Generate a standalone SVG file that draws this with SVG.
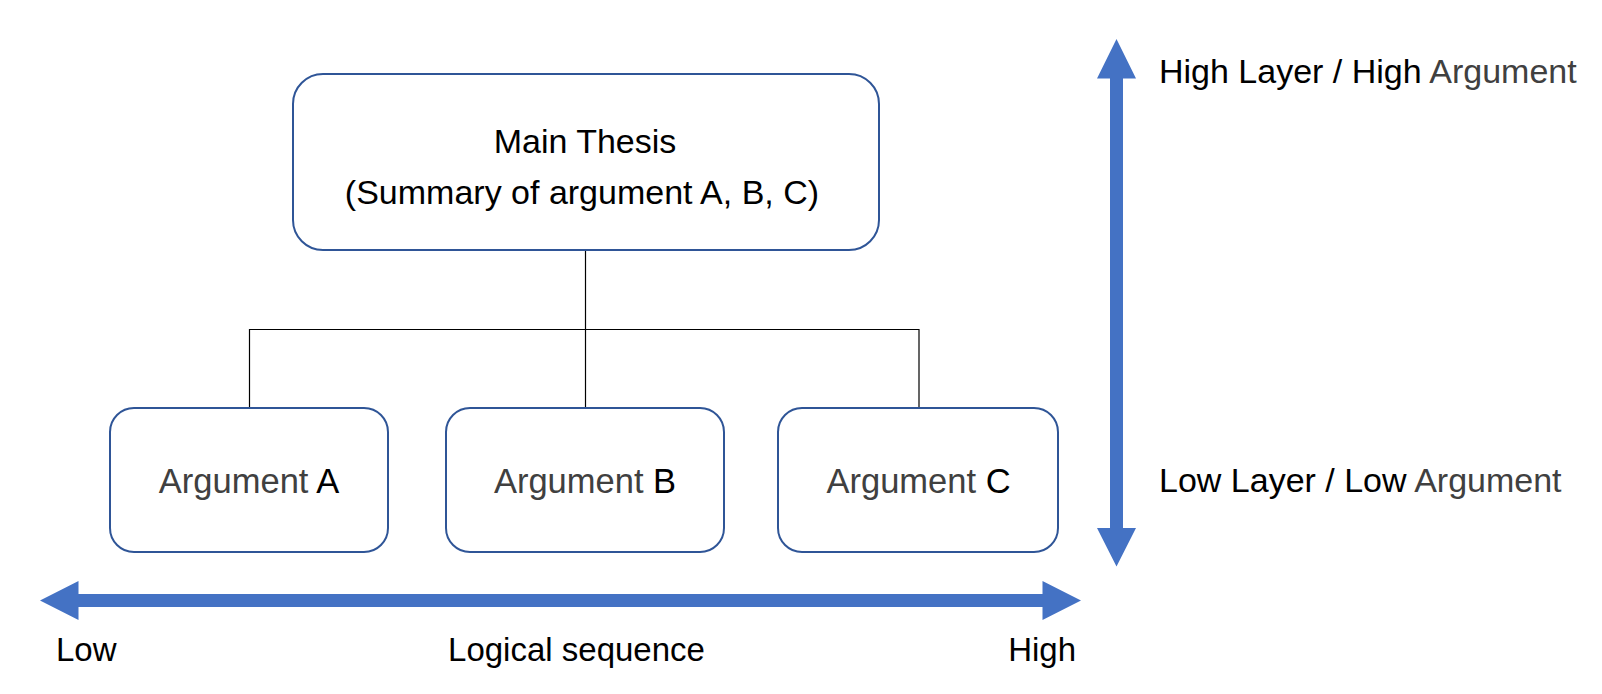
<svg xmlns="http://www.w3.org/2000/svg" width="1602" height="694" viewBox="0 0 1602 694">
  <style>
    .box { fill: #ffffff; stroke: #2F5597; stroke-width: 2; }
    .conn { fill: none; stroke: #000000; stroke-width: 1.2; }
    .arrow { fill: #4472C4; stroke: none; }
    text { font-family: "Liberation Sans", Arial, sans-serif; font-size: 34px; fill: #000000; }
    .axis { font-size: 33px; }
    .arg { font-size: 34.5px; }
    .mid { text-anchor: middle; }
    .gray { fill: #404040; }
  </style>
  <rect width="1602" height="694" fill="#ffffff"/>

  <g id="connectors">
    <line class="conn" x1="585.5" y1="250" x2="585.5" y2="408"/>
    <polyline class="conn" points="249.5,408 249.5,329.5 919,329.5 919,408"/>
  </g>

  <g id="main-thesis">
    <rect class="box" x="293" y="74" width="586" height="176" rx="30" ry="30"/>
    <text class="mid" x="585" y="152.5">Main Thesis</text>
    <text class="mid" x="582" y="203.5">(Summary of argument A, B, C)</text>
  </g>

  <g id="argument-a">
    <rect class="box" x="110" y="408" width="278" height="144" rx="24" ry="24"/>
    <text class="mid arg" x="249" y="492.5"><tspan class="gray">Argument </tspan>A</text>
  </g>

  <g id="argument-b">
    <rect class="box" x="446" y="408" width="278" height="144" rx="24" ry="24"/>
    <text class="mid arg" x="585" y="492.5"><tspan class="gray">Argument </tspan>B</text>
  </g>

  <g id="argument-c">
    <rect class="box" x="778" y="408" width="280" height="144" rx="24" ry="24"/>
    <text class="mid arg" x="918.5" y="492.5"><tspan class="gray">Argument </tspan>C</text>
  </g>

  <g id="vertical-axis">
    <polygon class="arrow" points="1116.5,39 1136,78.5 1123,78.5 1123,528 1136,528 1116.5,566.5 1097,528 1110,528 1110,78.5 1097,78.5"/>
    <text x="1159" y="82.5">High Layer / High <tspan class="gray">Argument</tspan></text>
    <text x="1159" y="491.5">Low Layer / Low <tspan class="gray">Argument</tspan></text>
  </g>

  <g id="horizontal-axis">
    <polygon class="arrow" points="40,600.5 78.5,581 78.5,594 1042.5,594 1042.5,581 1081,600.5 1042.5,620 1042.5,607 78.5,607 78.5,620"/>
    <text class="axis" x="56" y="660.5">Low</text>
    <text class="axis mid" x="576.5" y="660.5">Logical sequence</text>
    <text class="axis" x="1076" y="660.5" text-anchor="end">High</text>
  </g>
</svg>
